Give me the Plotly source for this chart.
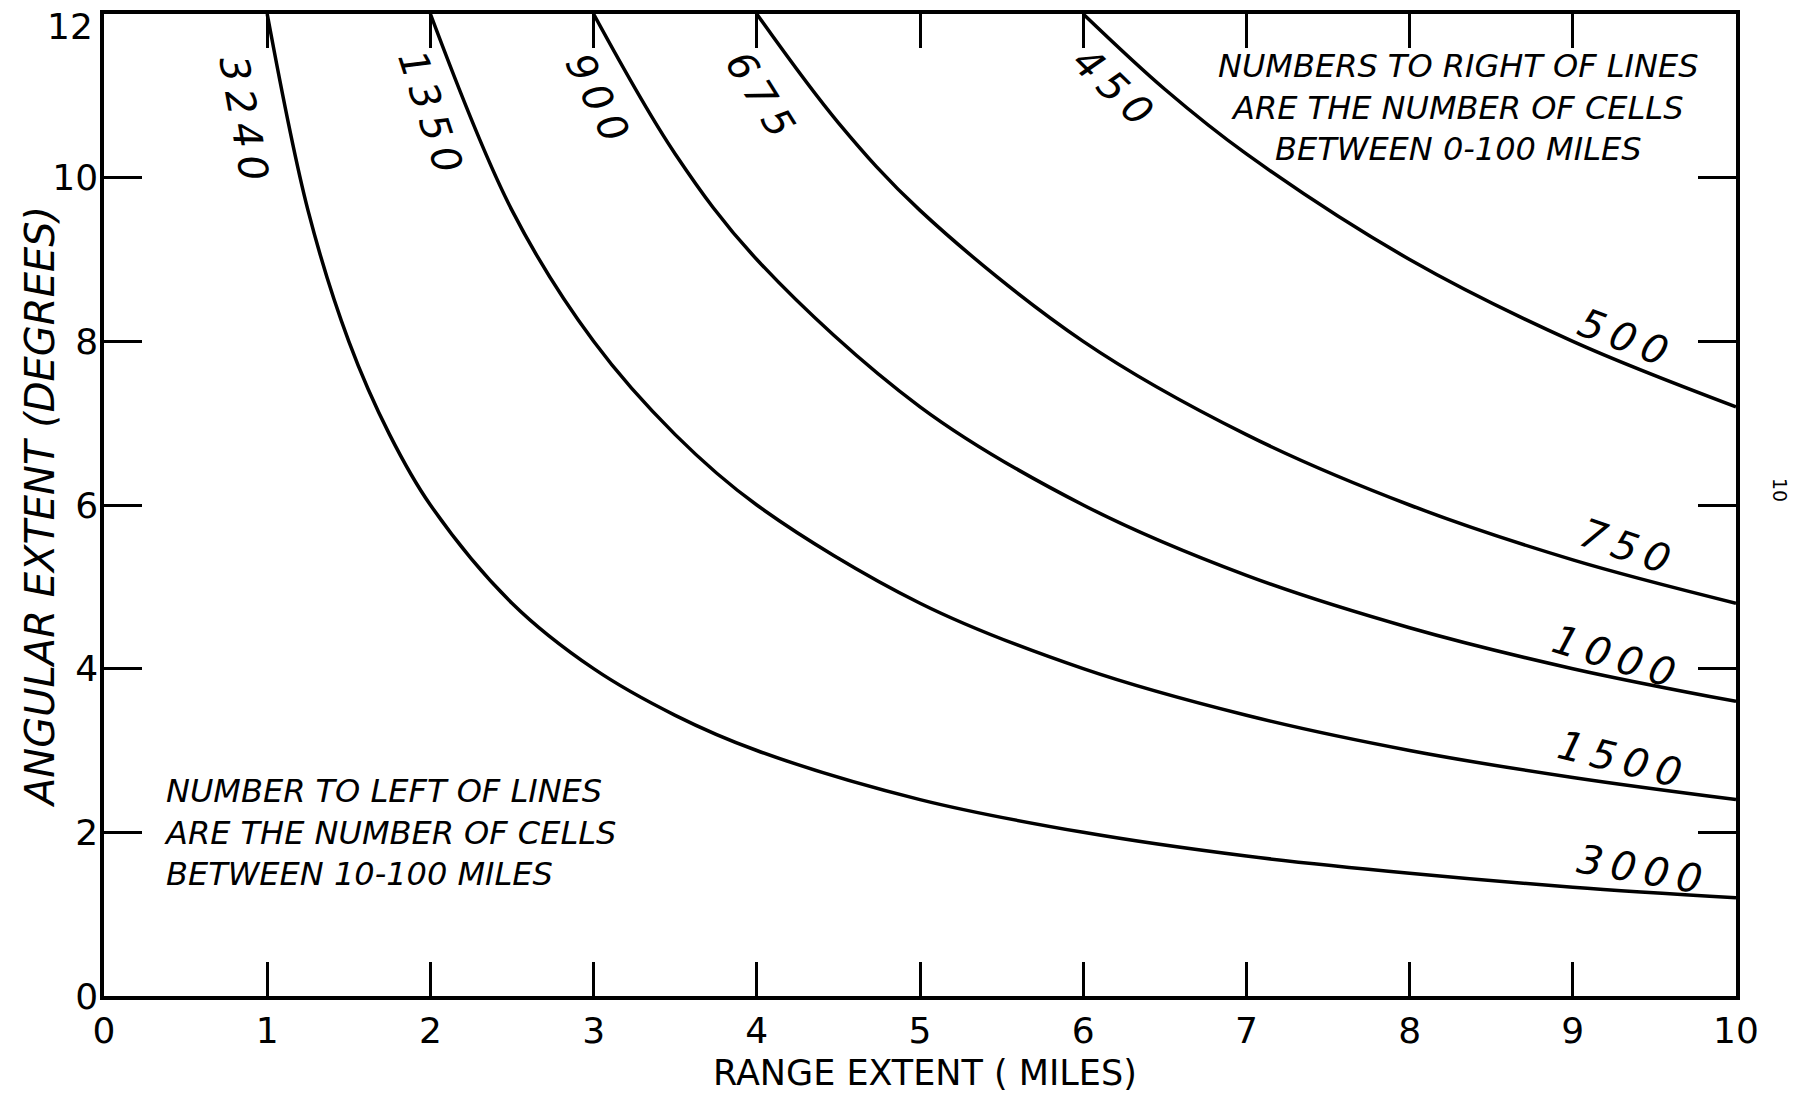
import plotly.graph_objects as go

# ---- data (range extent in miles, angular extent in degrees) ----
x_3000 = [1.0, 1.25, 1.5, 1.75, 2.0, 2.5, 3.0, 3.5, 4.0, 5.0, 6.0, 7.0, 8.0, 9.0, 10.0]
y_3000 = [12.0, 9.6, 8.0, 6.86, 6.0, 4.8, 4.0, 3.43, 3.0, 2.4, 2.0, 1.71, 1.5, 1.33, 1.2]

x_1500 = [2.0, 2.5, 3.0, 3.5, 4.0, 5.0, 6.0, 7.0, 8.0, 9.0, 10.0]
y_1500 = [12.0, 9.6, 8.0, 6.86, 6.0, 4.8, 4.0, 3.43, 3.0, 2.67, 2.4]

x_1000 = [3.0, 3.5, 4.0, 5.0, 6.0, 7.0, 8.0, 9.0, 10.0]
y_1000 = [12.0, 10.29, 9.0, 7.2, 6.0, 5.14, 4.5, 4.0, 3.6]

x_750 = [4.0, 4.5, 5.0, 6.0, 7.0, 8.0, 9.0, 10.0]
y_750 = [12.0, 10.67, 9.6, 8.0, 6.86, 6.0, 5.33, 4.8]

x_500 = [6.0, 6.5, 7.0, 8.0, 9.0, 10.0]
y_500 = [12.0, 11.08, 10.29, 9.0, 8.0, 7.2]

# labels: cells between 10-100 miles (left/top) and 0-100 miles (right)
left_labels = ["3240", "1350", "900", "675", "450"]
right_labels = ["3000", "1500", "1000", "750", "500"]

x_ticks = [0, 1, 2, 3, 4, 5, 6, 7, 8, 9, 10]
y_ticks = [0, 2, 4, 6, 8, 10, 12]

x_title = "RANGE EXTENT ( MILES)"
y_title = "ANGULAR EXTENT (DEGREES)"
note_right = ["NUMBERS TO RIGHT OF LINES", "ARE THE NUMBER OF CELLS", "BETWEEN 0-100 MILES"]
note_left = ["NUMBER TO LEFT OF LINES", "ARE THE NUMBER OF CELLS", "BETWEEN 10-100 MILES"]
page_number = "10"

curves = [(x_3000, y_3000), (x_1500, y_1500), (x_1000, y_1000), (x_750, y_750), (x_500, y_500)]

FONT = "DejaVu Sans"
fig = go.Figure()
for cx, cy in curves:
    fig.add_trace(go.Scatter(x=cx, y=cy, mode="lines",
                             line=dict(color="black", width=3.5, shape="spline", smoothing=1.0),
                             showlegend=False, hoverinfo="skip"))

# plot-area pixel geometry (for placing free text)
L, R, T, B = 104, 1736, 14, 996
def px(xp):
    return (xp - L) / (R - L)
def py(yp):
    return (B - yp) / (B - T)

def spaced(s):
    return "\u2009".join(s)

# label placements (x, y in data units, angle) — styling only
left_pos = [(0.86, 10.72, 80), (2.0, 10.8, 72), (3.02, 10.98, 64), (4.02, 11.02, 58), (6.18, 11.12, 44)]
right_pos = [(9.41, 1.55, 10), (9.29, 2.9, 14), (9.25, 4.15, 17), (9.32, 5.5, 19), (9.31, 8.05, 21)]

annotations = []
for lab, (ax_, ay_, ang) in zip(left_labels + right_labels, left_pos + right_pos):
    annotations.append(dict(x=ax_, y=ay_, xref="x", yref="y", text=f"<i>{spaced(lab)}</i>",
                            showarrow=False, textangle=ang,
                            font=dict(family=FONT, size=40, color="black")))

# notes
annotations.append(dict(x=px(1458), y=py(107), xref="paper", yref="paper", showarrow=False,
                        xanchor="center", yanchor="middle", align="center",
                        text="<i>" + "<br>".join(note_right) + "</i>",
                        font=dict(family=FONT, size=32, color="black")))
annotations.append(dict(x=px(162), y=py(832), xref="paper", yref="paper", showarrow=False,
                        xanchor="left", yanchor="middle", align="left",
                        text="<i>" + "<br>".join(note_left) + "</i>",
                        font=dict(family=FONT, size=32, color="black")))

# top y tick label sits a little below its tick in the original
annotations.append(dict(x=px(95), y=y_ticks[-1], xref="paper", yref="y", yshift=-12, showarrow=False,
                        xanchor="right", yanchor="middle", text=str(y_ticks[-1]),
                        font=dict(family=FONT, size=36, color="black")))

# axis titles
annotations.append(dict(x=px(925), y=py(1073), xref="paper", yref="paper", showarrow=False,
                        xanchor="center", yanchor="middle", text=x_title,
                        font=dict(family=FONT, size=35, color="black")))
annotations.append(dict(x=px(40), y=py(507), xref="paper", yref="paper", showarrow=False,
                        xanchor="center", yanchor="middle", text=f"<i>{y_title}</i>", textangle=-90,
                        font=dict(family=FONT, size=40, color="black")))
# page number in the margin
annotations.append(dict(x=px(1780), y=py(490), xref="paper", yref="paper", showarrow=False,
                        xanchor="center", yanchor="middle", text=page_number, textangle=90,
                        font=dict(family=FONT, size=19, color="black")))

fig.update_layout(
    width=1799, height=1093,
    margin=dict(l=L, r=1799 - R, t=T, b=1093 - B, autoexpand=False),
    paper_bgcolor="white", plot_bgcolor="white",
    font=dict(family=FONT, color="black"),
    annotations=annotations,
    xaxis=dict(range=[0, 10], tickvals=x_ticks, ticktext=[str(v) for v in x_ticks],
               showgrid=False, zeroline=False, showline=True, linecolor="black", linewidth=3.5,
               mirror="ticks", ticks="inside", ticklen=34, tickwidth=3, tickcolor="black",
               tickfont=dict(family=FONT, size=36), ticklabelstandoff=0, ticklabeloverflow="allow",
               automargin=False),
    yaxis=dict(range=[0, 12], tickvals=y_ticks,
               ticktext=[str(v) for v in y_ticks[:-1]] + [""],
               showgrid=False, zeroline=False, showline=True, linecolor="black", linewidth=3.5,
               mirror="ticks", ticks="inside", ticklen=38, tickwidth=3, tickcolor="black",
               tickfont=dict(family=FONT, size=36), ticklabelstandoff=-5, ticklabeloverflow="allow",
               automargin=False),
)

fig.write_html("out.html")
